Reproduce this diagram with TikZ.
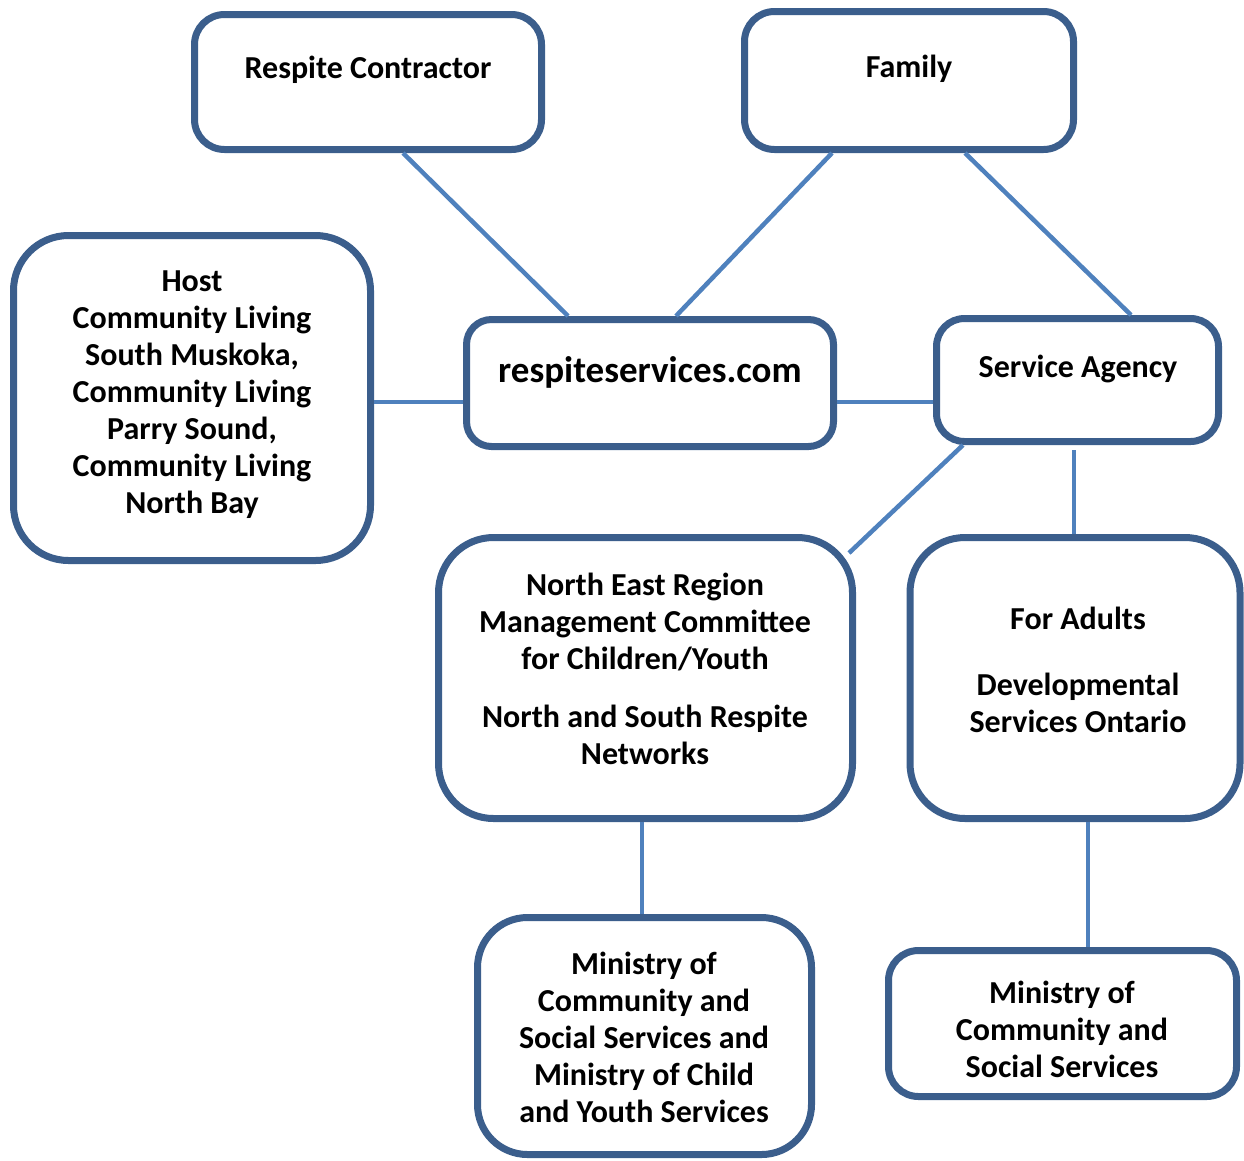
\documentclass[tikz,border=0pt]{standalone}
\usepackage{fontspec}
\setmainfont{Carlito}
\usetikzlibrary{calc}
\definecolor{boxblue}{HTML}{3B5E8C}
\definecolor{linkblue}{HTML}{4F81BD}
\begin{document}
\begin{tikzpicture}[x=1pt,y=-1pt,
  orgbox/.style={draw=boxblue, line width=7pt, fill=white, rectangle, inner sep=0pt},
  lbl/.style={font=\fontsize{32}{37}\selectfont\bfseries, align=center, inner sep=0pt},
  link/.style={draw=linkblue, line width=4.5pt}]
\useasboundingbox (0,0) rectangle (1244,1160);
% boxes
\node[orgbox, rounded corners=30pt, minimum width=347pt, minimum height=135pt] (rc) at (368,82) {};
\node[orgbox, rounded corners=30pt, minimum width=329pt, minimum height=138pt] (fam) at (909,80.5) {};
\node[orgbox, rounded corners=55pt, minimum width=357pt, minimum height=325pt] (host) at (192,398) {};
\node[orgbox, rounded corners=25pt, minimum width=367pt, minimum height=127pt] (rs) at (650,383) {};
\node[orgbox, rounded corners=28pt, minimum width=282pt, minimum height=123pt] (sa) at (1077.5,380) {};
\node[orgbox, rounded corners=55pt, minimum width=414pt, minimum height=281pt] (ne) at (645.5,678) {};
\node[orgbox, rounded corners=55pt, minimum width=330pt, minimum height=281pt] (fa) at (1075,678) {};
\node[orgbox, rounded corners=50pt, minimum width=334pt, minimum height=237pt] (ml) at (644.5,1036) {};
\node[orgbox, rounded corners=30pt, minimum width=348pt, minimum height=146pt] (mr) at (1062.5,1023.5) {};
% texts
\node[lbl] (trc) at (368,70) {Respite Contractor};
\node[lbl] (tfam) at (909,69) {Family};
\node[lbl] (thost) at (192,395) {Host\\Community Living\\South Muskoka,\\Community Living\\Parry Sound,\\Community Living\\North Bay};
\node[lbl, font=\fontsize{37}{44}\selectfont\bfseries] (trs) at (650,372) {respiteservices.com};
\node[lbl] (tsa) at (1078,369) {Service Agency};
\node[lbl] (tne) at (645,669) {North East Region\\Management Committee\\for Children/Youth\\[21pt]North and South Respite\\Networks};
\node[lbl] (tfa) at (1078,670) {For Adults\\[29pt]Developmental\\Services Ontario};
\node[lbl] (tml) at (644,1037.5) {Ministry of\\Community and\\Social Services and\\Ministry of Child\\and Youth Services};
\node[lbl] (tmr) at (1062,1029) {Ministry of\\Community and\\Social Services};
% connectors
\coordinate (Y) at (0,402);
\draw[link] ([xshift=35pt]rc.south) -- ([xshift=-82pt]rs.north);
\draw[link] ([xshift=-77pt]fam.south) -- ([xshift=26pt]rs.north);
\draw[link] ([xshift=56pt]fam.south) -- ([xshift=53.5pt]sa.north);
\draw[link] (host.east |- Y) -- (rs.west |- Y);
\draw[link] (rs.east |- Y) -- (sa.west |- Y);
\draw[link] ([xshift=-114.5pt]sa.south) -- ([xshift=-7pt,yshift=-19pt]ne.north east);
\draw[link] ([xshift=-3.5pt,yshift=-5pt]sa.south) -- ([xshift=-1pt]fa.north);
\draw[link] ([xshift=-3.5pt]ne.south) -- ([xshift=-2.5pt]ml.north);
\draw[link] ([xshift=13pt]fa.south) -- ([xshift=25.5pt]mr.north);
\end{tikzpicture}
\end{document}
